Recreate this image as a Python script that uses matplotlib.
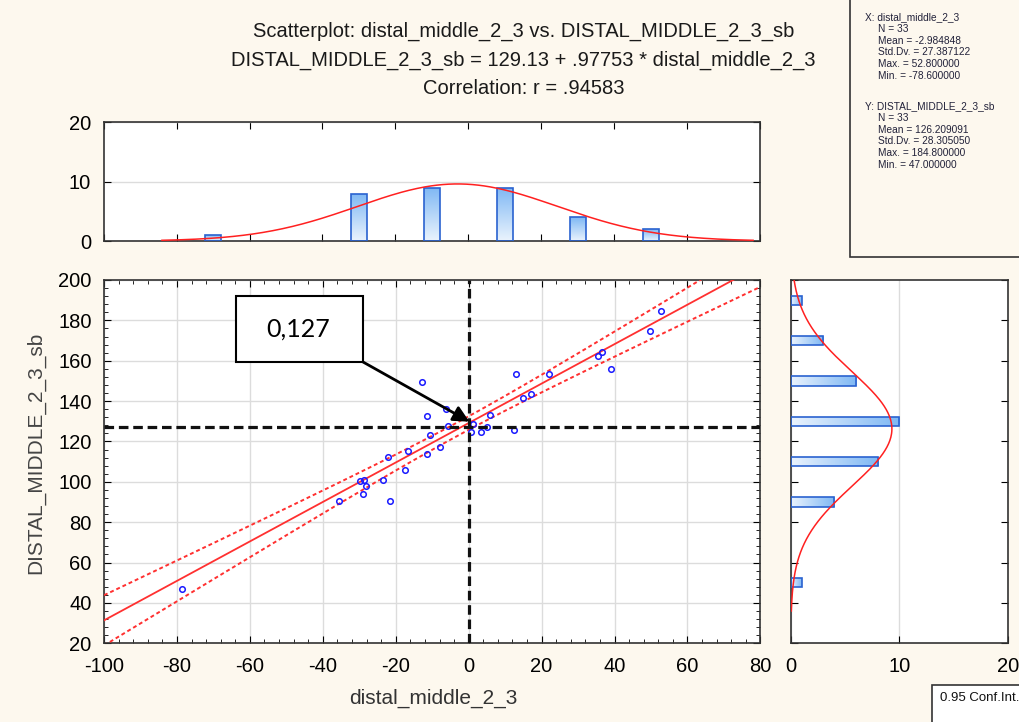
import numpy as np
import matplotlib
matplotlib.use("Agg")
import matplotlib.pyplot as plt
from matplotlib.patches import Rectangle
from matplotlib.colors import LinearSegmentedColormap
from matplotlib.ticker import MultipleLocator

# data
x_vals = [-78.6, -35.7, -29.7, -28.6, -28.1, -29.0, -23.5, -22.2, -21.5, -17.6, -16.6,
          -12.9, -11.5, -6.1, -5.8, -10.7, -11.5, -7.8, 1.2, 0.7, 3.3, 5.1, 5.9,
          12.3, 13.0, 15.0, 17.2, 21.9, 35.4, 36.6, 39.1, 49.8, 52.8]
y_vals = [47.0, 90.6, 100.4, 100.9, 97.8, 93.8, 100.9, 112.4, 90.6, 106.0, 115.1,
          149.3, 132.6, 136.1, 127.5, 123.0, 113.8, 117.1, 128.5, 124.8, 124.8, 127.3, 133.0,
          125.5, 153.3, 141.5, 143.7, 153.3, 162.3, 164.2, 155.7, 174.6, 184.8]

x_name = "distal_middle_2_3"
y_name = "DISTAL_MIDDLE_2_3_sb"
intercept = 129.13
slope = 0.97753
r_value = 0.94583
x_stats = [33, -2.984848, 27.387122, 52.800000, -78.600000]
y_stats = [33, 126.209091, 28.305050, 184.800000, 47.000000]
x_bins = [-80, -60, -40, -20, 0, 20, 40, 60]
y_bins = [40, 60, 80, 100, 120, 140, 160, 180, 200]
ref_x = 0
ref_y = 127
note_text = "0,127"

plt.rcParams['font.family'] = ['Liberation Sans', 'DejaVu Sans']
plt.rcParams['axes.unicode_minus'] = False
bg = '#fdf8ee'
blue_edge = '#2a62d0'
grad_cmap = LinearSegmentedColormap.from_list('g', ['#eaf3fd', '#7fb8f4'])

x = np.array(x_vals)
y = np.array(y_vals)
n = len(x)

fig = plt.figure(figsize=(10.2, 7.22), dpi=100, facecolor=bg)
ax = fig.add_axes([0.102, 0.109, 0.6435, 0.5032])
ax_top = fig.add_axes([0.1015, 0.6662, 0.644, 0.1644])
ax_r = fig.add_axes([0.7752, 0.109, 0.2133, 0.5032])


def gradient_bars(a, bars, horizontal):
    for b in bars:
        x0, y0 = b.get_xy()
        w, h = b.get_width(), b.get_height()
        if horizontal:
            g = np.linspace(0, 1, 64).reshape(1, -1)
        else:
            g = np.linspace(0, 1, 64).reshape(-1, 1)
        im = a.imshow(g, extent=[x0, x0 + w, y0, y0 + h], origin='lower',
                      cmap=grad_cmap, aspect='auto', zorder=2)
        im.set_clip_path(b)


# main scatter
ax.grid(True, color='#dcdcdc', lw=1)
ax.set_axisbelow(True)
xs = np.linspace(-100, 80, 200)
fit = intercept + slope * xs
resid = y - (intercept + slope * x)
s = np.sqrt(np.sum(resid ** 2) / (n - 2))
sxx = np.sum((x - x.mean()) ** 2)
half = 2.04 * s * np.sqrt(1 / n + (xs - x.mean()) ** 2 / sxx)
ax.plot(xs, fit, color='#ff3030', lw=1.3, zorder=3)
ax.plot(xs, fit + half, color='#ff3030', lw=1.4, dashes=(2, 1.5), zorder=3)
ax.plot(xs, fit - half, color='#ff3030', lw=1.4, dashes=(2, 1.5), zorder=3)
ax.plot(x, y, 'o', mfc='none', mec='#1a1aff', ms=4, mew=1.1, zorder=4)
ax.axhline(ref_y, color='#111111', lw=2.3, dashes=(3, 1.5), zorder=5)
ax.axvline(ref_x, color='#111111', lw=2.3, dashes=(3, 1.5), zorder=5)

ax.add_patch(Rectangle((-63.7, 159.4), 34.7, 32.7, facecolor='white',
                       edgecolor='black', lw=1.5, zorder=6))
ax.text(-55.5, 175.8, note_text, fontsize=18, family=['Lato', 'DejaVu Sans'],
        va='center', ha='left', zorder=7)
ax.annotate('', xy=(0.2, 129.8), xytext=(-29.0, 159.4),
            arrowprops=dict(arrowstyle='-|>', color='black', lw=2,
                            mutation_scale=24, shrinkA=0, shrinkB=0), zorder=7)

ax.set_xlim(-100, 80)
ax.set_ylim(20, 200)
ax.xaxis.set_major_locator(MultipleLocator(20))
ax.yaxis.set_major_locator(MultipleLocator(20))
ax.xaxis.set_minor_locator(MultipleLocator(4))
ax.yaxis.set_minor_locator(MultipleLocator(4))
ax.tick_params(which='both', direction='in', top=True, right=True, labelsize=14.5)
ax.tick_params(which='major', length=5)
ax.tick_params(which='minor', length=3)
ax.tick_params(axis='x', pad=10)
ax.tick_params(axis='y', pad=9)
ax.set_xlabel(x_name, fontsize=15, color='#333333')
ax.xaxis.set_label_coords(0.502, -0.125)
ax.set_ylabel(y_name, fontsize=15, color='#444444')
ax.yaxis.set_label_coords(-0.09, 0.524)

# top histogram
cx, edges = np.histogram(x, bins=x_bins)
centers = (edges[:-1] + edges[1:]) / 2
keep = cx > 0
bars = ax_top.bar(centers[keep], cx[keep], width=4.2, facecolor='none',
                  edgecolor=blue_edge, lw=1.2, zorder=3)
gradient_bars(ax_top, bars, horizontal=False)
xc = np.linspace(-84, 78, 300)
bw = x_bins[1] - x_bins[0]
ax_top.plot(xc, n * bw * np.exp(-0.5 * ((xc - x_stats[1]) / x_stats[2]) ** 2)
            / (x_stats[2] * np.sqrt(2 * np.pi)), color='#ff2020', lw=1.1, zorder=4)
ax_top.set_xlim(-100, 80)
ax_top.set_ylim(0, 20)
ax_top.xaxis.set_major_locator(MultipleLocator(20))
ax_top.yaxis.set_major_locator(MultipleLocator(10))
ax_top.grid(True, axis='y', color='#dcdcdc', lw=1)
ax_top.set_axisbelow(True)
ax_top.tick_params(direction='in', top=True, right=True, labelbottom=False,
                   labelsize=14.5, length=5, pad=9)

# right histogram
cy, yedges = np.histogram(y, bins=y_bins)
ycenters = (yedges[:-1] + yedges[1:]) / 2
keep = cy > 0
hbars = ax_r.barh(ycenters[keep], cy[keep], height=4.6, facecolor='none',
                  edgecolor=blue_edge, lw=1.2, zorder=3)
gradient_bars(ax_r, hbars, horizontal=True)
yc = np.linspace(36, 200, 300)
ybw = y_bins[1] - y_bins[0]
ax_r.plot(n * ybw * np.exp(-0.5 * ((yc - y_stats[1]) / y_stats[2]) ** 2)
          / (y_stats[2] * np.sqrt(2 * np.pi)), yc, color='#ff2020', lw=1.1, zorder=4)
ax_r.set_xlim(0, 20)
ax_r.set_ylim(20, 200)
ax_r.xaxis.set_major_locator(MultipleLocator(10))
ax_r.yaxis.set_major_locator(MultipleLocator(20))
ax_r.grid(True, axis='x', color='#dcdcdc', lw=1)
ax_r.set_axisbelow(True)
ax_r.tick_params(direction='in', right=True, labelleft=False, labelsize=14.5,
                 length=5, pad=10)

for a in (ax, ax_top, ax_r):
    a.set_facecolor('white')
    for sp in a.spines.values():
        sp.set_color('#333333')
        sp.set_linewidth(1.2)

# titles
fig.text(0.513, 0.956, "Scatterplot: %s vs. %s" % (x_name, y_name),
         ha='center', va='center', fontsize=14.5, color='#1a1a1a')
fig.text(0.513, 0.917, "%s = %.2f + %s * %s" % (y_name, intercept, ("%.5f" % slope)[1:], x_name),
         ha='center', va='center', fontsize=14.5, color='#1a1a1a')
fig.text(0.513, 0.878, "Correlation: r = %s" % ("%.5f" % r_value)[1:],
         ha='center', va='center', fontsize=14.5, color='#1a1a1a')

# stats box
fig.patches.append(Rectangle((0.8333, 0.644), 0.2, 0.4, transform=fig.transFigure,
                             facecolor=bg, edgecolor='#333333', lw=1.2))
labels = ["N", "Mean", "Std.Dv.", "Max.", "Min."]
for block, (name, vals) in enumerate([("X: " + x_name, x_stats), ("Y: " + y_name, y_stats)]):
    yy = 17 + block * 89
    fig.text(865 / 1020, 1 - yy / 722, name, fontsize=7.3, color='#22223a', va='center')
    for k, (lab, v) in enumerate(zip(labels, vals)):
        txt = "%s = %s" % (lab, v if lab == "N" else "%.6f" % v)
        fig.text(878 / 1020, 1 - (yy + 11.8 * (k + 1)) / 722, txt, fontsize=7.3,
                 color='#22223a', va='center')

# conf int legend box
fig.patches.append(Rectangle((932 / 1020, -0.01), 0.2, 0.061, transform=fig.transFigure,
                             facecolor='white', edgecolor='#333333', lw=1.2))
fig.text(940 / 1020, 1 - 698 / 722, "0.95 Conf.Int.", fontsize=9.5, color='#111111', va='center')

fig.savefig("out.png", dpi=100, facecolor=bg)
